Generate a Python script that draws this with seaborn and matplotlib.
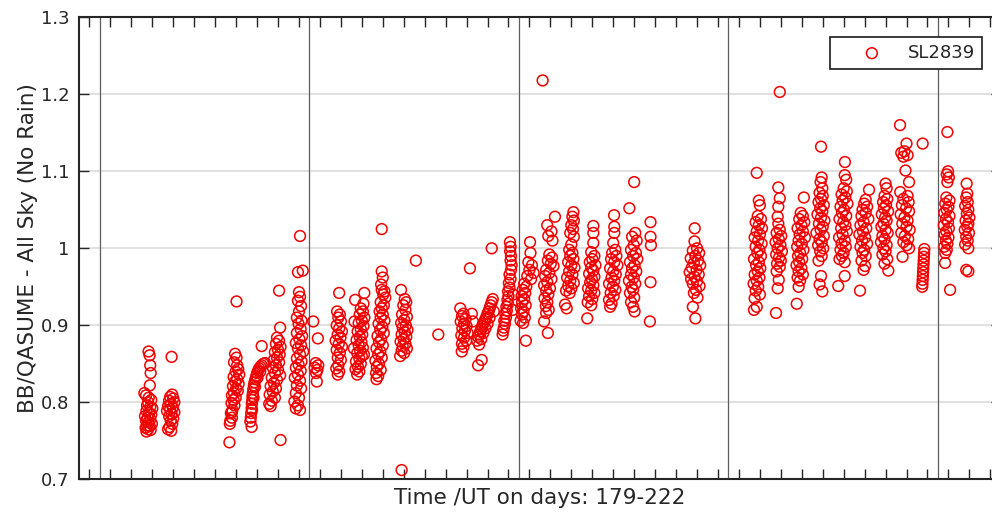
import numpy as np
import pandas as pd
import matplotlib
matplotlib.use("Agg")
import matplotlib.pyplot as plt
from matplotlib.ticker import FixedLocator, FuncFormatter, NullFormatter
import seaborn as sns

# Brewer/QASUME irradiance ratio, (day of year + UT fraction, ratio) per measuring day
d182 = [(182.32, 0.866), (182.37, 0.861), (182.40, 0.848), (182.42, 0.838), (182.38, 0.822),
        (182.12, 0.812), (182.20, 0.809), (182.33, 0.806), (182.45, 0.803), (182.30, 0.800),
        (182.25, 0.796), (182.40, 0.794), (182.50, 0.792), (182.22, 0.789), (182.35, 0.786),
        (182.45, 0.784), (182.15, 0.782), (182.28, 0.780), (182.40, 0.778), (182.20, 0.776),
        (182.32, 0.774), (182.48, 0.772), (182.25, 0.770), (182.38, 0.769), (182.18, 0.767),
        (182.30, 0.765), (182.42, 0.764), (182.22, 0.762)]
d183 = [(183.42, 0.859), (183.45, 0.810), (183.35, 0.807), (183.50, 0.805), (183.30, 0.802),
        (183.55, 0.800), (183.40, 0.798), (183.25, 0.795), (183.48, 0.793), (183.35, 0.791),
        (183.20, 0.789), (183.55, 0.787), (183.42, 0.785), (183.30, 0.782), (183.50, 0.779),
        (183.38, 0.776), (183.45, 0.772), (183.32, 0.768), (183.25, 0.765), (183.40, 0.763)]
d186 = [(186.52, 0.931), (186.45, 0.863), (186.52, 0.858), (186.40, 0.852), (186.55, 0.848),
        (186.60, 0.843), (186.48, 0.840), (186.65, 0.836), (186.38, 0.833), (186.55, 0.830),
        (186.45, 0.827), (186.62, 0.824), (186.35, 0.821), (186.50, 0.818), (186.58, 0.815),
        (186.40, 0.812), (186.30, 0.809), (186.48, 0.806), (186.38, 0.803), (186.28, 0.799),
        (186.42, 0.796), (186.32, 0.790), (186.25, 0.786), (186.30, 0.780), (186.22, 0.776),
        (186.20, 0.772), (186.30, 0.787), (186.18, 0.748)]
d187 = [(187.20, 0.780), (187.22, 0.786), (187.24, 0.792), (187.25, 0.798), (187.27, 0.803),
        (187.28, 0.808), (187.30, 0.812), (187.32, 0.817), (187.35, 0.822), (187.38, 0.826),
        (187.42, 0.830), (187.46, 0.834), (187.50, 0.838), (187.55, 0.841), (187.60, 0.844),
        (187.66, 0.846), (187.72, 0.848), (187.80, 0.850), (187.88, 0.851), (187.18, 0.775),
        (187.24, 0.768), (187.72, 0.873), (187.26, 0.790), (187.33, 0.806), (187.40, 0.820),
        (187.52, 0.832), (187.65, 0.840)]
d188 = [(188.55, 0.945), (188.60, 0.897), (188.45, 0.884), (188.55, 0.880), (188.40, 0.876),
        (188.62, 0.872), (188.50, 0.868), (188.35, 0.865), (188.58, 0.862), (188.45, 0.858),
        (188.30, 0.855), (188.55, 0.852), (188.40, 0.848), (188.25, 0.845), (188.50, 0.842),
        (188.35, 0.838), (188.60, 0.835), (188.20, 0.832), (188.45, 0.829), (188.30, 0.825),
        (188.15, 0.821), (188.40, 0.818), (188.25, 0.814), (188.10, 0.810), (188.35, 0.806),
        (188.20, 0.802), (188.08, 0.798), (188.15, 0.795), (188.62, 0.751)]
d189 = [(189.55, 1.016), (189.45, 0.969), (189.68, 0.971), (189.50, 0.943), (189.55, 0.937),
        (189.45, 0.932), (189.60, 0.925), (189.50, 0.918), (189.40, 0.910), (189.62, 0.906),
        (189.48, 0.902), (189.58, 0.895), (189.40, 0.890), (189.65, 0.886), (189.52, 0.882),
        (189.35, 0.877), (189.60, 0.874), (189.45, 0.870), (189.70, 0.866), (189.55, 0.862),
        (189.40, 0.857), (189.62, 0.853), (189.48, 0.849), (189.35, 0.845), (189.58, 0.841),
        (189.45, 0.836), (189.30, 0.832), (189.55, 0.828), (189.40, 0.822), (189.60, 0.818),
        (189.35, 0.812), (189.50, 0.806), (189.28, 0.801), (189.45, 0.796), (189.35, 0.792),
        (189.55, 0.790)]
d190 = [(190.18, 0.905), (190.40, 0.883), (190.30, 0.851), (190.42, 0.848), (190.25, 0.845),
        (190.38, 0.842), (190.32, 0.838), (190.35, 0.827)]
d191 = [(191.42, 0.942), (191.32, 0.918), (191.45, 0.914), (191.38, 0.910), (191.50, 0.905),
        (191.30, 0.900), (191.42, 0.896), (191.55, 0.892), (191.35, 0.888), (191.48, 0.884),
        (191.25, 0.880), (191.40, 0.876), (191.55, 0.872), (191.30, 0.868), (191.45, 0.864),
        (191.35, 0.858), (191.50, 0.855), (191.38, 0.848), (191.28, 0.844), (191.42, 0.840),
        (191.35, 0.836)]
d192 = [(192.62, 0.942), (192.18, 0.933), (192.58, 0.928), (192.45, 0.922), (192.55, 0.918),
        (192.40, 0.914), (192.62, 0.910), (192.50, 0.906), (192.35, 0.903), (192.58, 0.899),
        (192.45, 0.895), (192.30, 0.892), (192.52, 0.888), (192.40, 0.885), (192.25, 0.881),
        (192.48, 0.878), (192.35, 0.874), (192.55, 0.871), (192.42, 0.867), (192.28, 0.864),
        (192.50, 0.860), (192.38, 0.857), (192.22, 0.853), (192.45, 0.850), (192.32, 0.846),
        (192.20, 0.843), (192.38, 0.840), (192.28, 0.836), (192.15, 0.905), (192.12, 0.870),
        (192.60, 0.862)]
d193 = [(193.45, 1.025), (193.45, 0.970), (193.50, 0.962), (193.42, 0.953), (193.45, 0.946),
        (193.58, 0.944), (193.52, 0.940), (193.62, 0.936), (193.40, 0.930), (193.55, 0.926),
        (193.45, 0.922), (193.35, 0.918), (193.50, 0.914), (193.40, 0.910), (193.58, 0.906),
        (193.30, 0.902), (193.48, 0.898), (193.38, 0.894), (193.55, 0.890), (193.25, 0.886),
        (193.42, 0.882), (193.32, 0.878), (193.50, 0.874), (193.20, 0.870), (193.38, 0.866),
        (193.28, 0.862), (193.45, 0.858), (193.15, 0.854), (193.32, 0.850), (193.22, 0.846),
        (193.40, 0.842), (193.18, 0.838), (193.28, 0.834), (193.20, 0.830)]
d194 = [(194.37, 0.946), (194.55, 0.934), (194.62, 0.930), (194.48, 0.926), (194.58, 0.920),
        (194.42, 0.914), (194.65, 0.911), (194.52, 0.907), (194.38, 0.903), (194.60, 0.900),
        (194.45, 0.897), (194.68, 0.894), (194.55, 0.891), (194.40, 0.888), (194.62, 0.885),
        (194.50, 0.882), (194.35, 0.879), (194.58, 0.876), (194.45, 0.873), (194.65, 0.870),
        (194.40, 0.867), (194.52, 0.864), (194.33, 0.860), (194.40, 0.712)]
d195 = [(195.08, 0.984)]
d196 = [(196.15, 0.888)]
d197 = [(197.66, 0.974), (197.20, 0.922), (197.35, 0.915), (197.28, 0.912), (197.45, 0.908),
        (197.22, 0.905), (197.38, 0.902), (197.50, 0.899), (197.30, 0.896), (197.42, 0.893),
        (197.55, 0.890), (197.25, 0.887), (197.38, 0.884), (197.48, 0.880), (197.28, 0.876),
        (197.35, 0.872), (197.27, 0.866), (197.75, 0.915), (197.80, 0.905)]
d198 = [(198.00, 0.880), (198.05, 0.885), (198.10, 0.888), (198.15, 0.892), (198.20, 0.895),
        (198.25, 0.899), (198.30, 0.902), (198.35, 0.905), (198.40, 0.908), (198.45, 0.911),
        (198.50, 0.915), (198.55, 0.918), (198.60, 0.922), (198.65, 0.926), (198.70, 0.930),
        (198.75, 0.934), (198.10, 0.875), (198.20, 0.882), (198.30, 0.890), (198.40, 0.896),
        (198.50, 0.902), (198.60, 0.910), (198.70, 1.000), (198.22, 0.855), (198.80, 0.918),
        (198.05, 0.848)]
d199 = [(199.57, 1.008), (199.60, 1.002), (199.58, 0.996), (199.62, 0.990), (199.60, 0.984),
        (199.65, 0.978), (199.62, 0.972), (199.55, 0.966), (199.60, 0.960), (199.52, 0.955),
        (199.55, 0.949), (199.48, 0.944), (199.50, 0.938), (199.45, 0.933), (199.48, 0.928),
        (199.40, 0.924), (199.42, 0.919), (199.35, 0.915), (199.38, 0.910), (199.30, 0.906),
        (199.33, 0.902), (199.28, 0.897), (199.25, 0.893), (199.22, 0.888), (199.70, 0.920),
        (199.72, 0.940)]
d200 = [(200.53, 1.008), (200.55, 0.994), (200.45, 0.982), (200.62, 0.978), (200.50, 0.972),
        (200.70, 0.968), (200.40, 0.964), (200.58, 0.960), (200.25, 0.954), (200.35, 0.950),
        (200.18, 0.946), (200.30, 0.942), (200.12, 0.938), (200.25, 0.934), (200.15, 0.930),
        (200.32, 0.926), (200.10, 0.922), (200.22, 0.918), (200.15, 0.914), (200.28, 0.910),
        (200.08, 0.906), (200.20, 0.903), (200.33, 0.880)]
d201 = [(201.13, 1.218), (201.72, 1.041), (201.35, 1.030), (201.55, 1.022), (201.40, 1.016),
        (201.60, 1.010), (201.45, 0.992), (201.58, 0.988), (201.38, 0.984), (201.52, 0.980),
        (201.65, 0.977), (201.30, 0.972), (201.45, 0.968), (201.25, 0.964), (201.55, 0.960),
        (201.35, 0.956), (201.20, 0.952), (201.48, 0.948), (201.30, 0.945), (201.40, 0.940),
        (201.22, 0.935), (201.35, 0.930), (201.28, 0.925), (201.42, 0.920), (201.30, 0.916),
        (201.20, 0.905), (201.38, 0.890)]
d202 = [(202.60, 1.047), (202.55, 1.041), (202.62, 1.036), (202.50, 1.030), (202.58, 1.025),
        (202.45, 1.020), (202.62, 1.015), (202.50, 1.005), (202.40, 0.998), (202.55, 0.994),
        (202.45, 0.990), (202.60, 0.986), (202.35, 0.982), (202.50, 0.978), (202.65, 0.975),
        (202.40, 0.970), (202.55, 0.966), (202.30, 0.962), (202.45, 0.958), (202.62, 0.955),
        (202.35, 0.951), (202.50, 0.948), (202.25, 0.945), (202.42, 0.942), (202.20, 0.927),
        (202.28, 0.922)]
d203 = [(203.55, 1.029), (203.55, 1.020), (203.55, 1.007), (203.45, 0.995), (203.60, 0.990),
        (203.50, 0.986), (203.38, 0.982), (203.65, 0.978), (203.45, 0.975), (203.55, 0.971),
        (203.35, 0.967), (203.60, 0.963), (203.48, 0.960), (203.40, 0.956), (203.55, 0.952),
        (203.30, 0.948), (203.45, 0.945), (203.60, 0.942), (203.35, 0.938), (203.50, 0.934),
        (203.28, 0.930), (203.45, 0.926), (203.26, 0.909)]
d204 = [(204.54, 1.043), (204.55, 1.028), (204.55, 1.020), (204.50, 1.007), (204.60, 0.998),
        (204.45, 0.994), (204.65, 0.990), (204.40, 0.986), (204.55, 0.982), (204.70, 0.978),
        (204.35, 0.974), (204.50, 0.970), (204.62, 0.966), (204.42, 0.962), (204.55, 0.958),
        (204.30, 0.954), (204.48, 0.950), (204.60, 0.946), (204.38, 0.942), (204.52, 0.938),
        (204.30, 0.933), (204.42, 0.928), (204.35, 0.924)]
d205 = [(205.50, 1.086), (205.27, 1.052), (205.55, 1.020), (205.40, 1.015), (205.62, 1.010),
        (205.48, 1.004), (205.35, 0.998), (205.58, 0.994), (205.45, 0.990), (205.65, 0.986),
        (205.30, 0.982), (205.52, 0.978), (205.40, 0.974), (205.60, 0.970), (205.35, 0.966),
        (205.48, 0.962), (205.25, 0.958), (205.55, 0.954), (205.38, 0.950), (205.45, 0.946),
        (205.30, 0.942), (205.50, 0.936), (205.35, 0.930), (205.45, 0.924), (205.52, 0.918)]
d206 = [(206.28, 1.034), (206.28, 1.015), (206.30, 1.004), (206.28, 0.956), (206.25, 0.905)]
d208 = [(208.39, 1.026), (208.38, 1.009), (208.50, 1.000), (208.30, 0.997), (208.60, 0.994),
        (208.42, 0.990), (208.20, 0.987), (208.55, 0.984), (208.35, 0.981), (208.65, 0.978),
        (208.25, 0.975), (208.48, 0.972), (208.15, 0.969), (208.58, 0.966), (208.38, 0.963),
        (208.22, 0.960), (208.50, 0.957), (208.30, 0.954), (208.62, 0.951), (208.45, 0.946),
        (208.35, 0.942), (208.52, 0.936), (208.30, 0.924), (208.42, 0.909)]
d211 = [(211.35, 1.098), (211.45, 1.062), (211.50, 1.056), (211.40, 1.042), (211.55, 1.038),
        (211.30, 1.034), (211.45, 1.030), (211.60, 1.026), (211.35, 1.022), (211.50, 1.018),
        (211.25, 1.014), (211.42, 1.010), (211.58, 1.006), (211.30, 1.002), (211.48, 0.998),
        (211.38, 0.994), (211.55, 0.990), (211.22, 0.986), (211.45, 0.982), (211.32, 0.978),
        (211.52, 0.974), (211.40, 0.970), (211.25, 0.966), (211.48, 0.962), (211.35, 0.958),
        (211.20, 0.954), (211.42, 0.950), (211.30, 0.945), (211.50, 0.940), (211.25, 0.935),
        (211.35, 0.924), (211.22, 0.920)]
d212 = [(212.45, 1.203), (212.38, 1.079), (212.45, 1.065), (212.38, 1.054), (212.35, 1.041),
        (212.38, 1.032), (212.45, 1.024), (212.30, 1.020), (212.52, 1.016), (212.40, 1.012),
        (212.25, 1.008), (212.48, 1.004), (212.35, 1.000), (212.55, 0.996), (212.28, 0.992),
        (212.42, 0.988), (212.50, 0.984), (212.32, 0.980), (212.45, 0.976), (212.30, 0.970),
        (212.40, 0.959), (212.35, 0.948), (212.27, 0.916)]
d213 = [(213.60, 1.066), (213.45, 1.046), (213.55, 1.042), (213.38, 1.038), (213.62, 1.034),
        (213.48, 1.030), (213.30, 1.026), (213.55, 1.022), (213.40, 1.018), (213.65, 1.014),
        (213.35, 1.010), (213.50, 1.006), (213.28, 1.002), (213.58, 0.998), (213.42, 0.994),
        (213.32, 0.990), (213.52, 0.986), (213.38, 0.982), (213.25, 0.978), (213.48, 0.974),
        (213.35, 0.970), (213.55, 0.966), (213.30, 0.962), (213.42, 0.958), (213.35, 0.950),
        (213.26, 0.928)]
d214 = [(214.42, 1.132), (214.45, 1.092), (214.40, 1.086), (214.48, 1.078), (214.35, 1.072),
        (214.50, 1.068), (214.42, 1.064), (214.30, 1.060), (214.55, 1.056), (214.38, 1.052),
        (214.48, 1.048), (214.25, 1.044), (214.42, 1.040), (214.58, 1.036), (214.32, 1.032),
        (214.50, 1.028), (214.40, 1.024), (214.20, 1.020), (214.55, 1.016), (214.35, 1.012),
        (214.45, 1.008), (214.28, 1.004), (214.52, 1.000), (214.38, 0.996), (214.45, 0.990),
        (214.30, 0.984), (214.42, 0.964), (214.35, 0.953), (214.48, 0.944)]
d215 = [(215.56, 1.112), (215.55, 1.095), (215.62, 1.089), (215.50, 1.078), (215.65, 1.074),
        (215.40, 1.070), (215.58, 1.066), (215.45, 1.062), (215.68, 1.058), (215.35, 1.054),
        (215.52, 1.050), (215.42, 1.046), (215.62, 1.042), (215.30, 1.038), (215.48, 1.034),
        (215.58, 1.030), (215.38, 1.026), (215.65, 1.022), (215.45, 1.018), (215.28, 1.014),
        (215.55, 1.010), (215.40, 1.006), (215.60, 1.002), (215.35, 0.998), (215.50, 0.994),
        (215.42, 0.990), (215.30, 0.986), (215.55, 0.982), (215.55, 0.964), (215.24, 0.951)]
d216 = [(216.71, 1.076), (216.55, 1.063), (216.48, 1.058), (216.62, 1.054), (216.40, 1.050),
        (216.55, 1.046), (216.35, 1.042), (216.68, 1.038), (216.45, 1.034), (216.30, 1.030),
        (216.58, 1.026), (216.42, 1.022), (216.25, 1.018), (216.52, 1.014), (216.38, 1.010),
        (216.62, 1.006), (216.30, 1.002), (216.48, 0.998), (216.40, 0.994), (216.55, 0.990),
        (216.35, 0.984), (216.52, 0.977), (216.28, 0.945), (216.45, 0.972)]
d217 = [(217.50, 1.084), (217.55, 1.078), (217.45, 1.068), (217.58, 1.064), (217.38, 1.060),
        (217.52, 1.056), (217.42, 1.052), (217.62, 1.048), (217.32, 1.044), (217.48, 1.040),
        (217.55, 1.036), (217.40, 1.032), (217.30, 1.028), (217.50, 1.024), (217.60, 1.020),
        (217.35, 1.016), (217.45, 1.012), (217.28, 1.008), (217.55, 1.004), (217.40, 1.000),
        (217.50, 0.996), (217.35, 0.992), (217.58, 0.986), (217.63, 0.971), (217.45, 0.980)]
d218 = [(218.19, 1.160), (218.50, 1.136), (218.25, 1.124), (218.40, 1.126), (218.55, 1.121),
        (218.35, 1.119), (218.45, 1.101), (218.62, 1.086), (218.20, 1.073), (218.55, 1.068),
        (218.35, 1.064), (218.60, 1.060), (218.28, 1.056), (218.48, 1.052), (218.62, 1.048),
        (218.22, 1.044), (218.40, 1.040), (218.55, 1.036), (218.30, 1.032), (218.50, 1.028),
        (218.65, 1.024), (218.25, 1.020), (218.42, 1.016), (218.58, 1.012), (218.35, 1.008),
        (218.50, 1.004), (218.62, 1.000), (218.31, 0.989)]
d219 = [(219.27, 1.136), (219.35, 0.999), (219.34, 0.994), (219.33, 0.989), (219.32, 0.984),
        (219.31, 0.979), (219.30, 0.974), (219.29, 0.969), (219.28, 0.964), (219.27, 0.959),
        (219.26, 0.954), (219.25, 0.950)]
d220 = [(220.45, 1.151), (220.48, 1.100), (220.42, 1.096), (220.52, 1.092), (220.45, 1.086),
        (220.40, 1.066), (220.55, 1.062), (220.35, 1.058), (220.50, 1.054), (220.42, 1.050),
        (220.30, 1.046), (220.55, 1.042), (220.38, 1.038), (220.48, 1.034), (220.28, 1.030),
        (220.52, 1.026), (220.40, 1.022), (220.32, 1.018), (220.50, 1.014), (220.38, 1.010),
        (220.45, 1.006), (220.30, 1.002), (220.42, 0.998), (220.35, 0.994), (220.34, 0.981),
        (220.58, 0.946)]
d221 = [(221.37, 1.084), (221.40, 1.071), (221.35, 1.066), (221.42, 1.060), (221.30, 1.055),
        (221.45, 1.050), (221.38, 1.045), (221.50, 1.040), (221.32, 1.036), (221.45, 1.032),
        (221.40, 1.028), (221.28, 1.024), (221.48, 1.020), (221.35, 1.015), (221.42, 1.010),
        (221.30, 1.005), (221.45, 1.000), (221.35, 0.972), (221.45, 0.970)]

station = "SL2839"
x_label = "Time /UT on days: 179-222"
y_label = "BB/QASUME - All Sky (No Rain)"
ratio_ticks = [0.7, 0.8, 0.9, 1.0, 1.1, 1.2, 1.3]
decade_days = [180, 190, 200, 210, 220]

days = [d182, d183, d186, d187, d188, d189, d190, d191, d192, d193, d194, d195, d196,
        d197, d198, d199, d200, d201, d202, d203, d204, d205, d206, d208, d211, d212,
        d213, d214, d215, d216, d217, d218, d219, d220, d221]
df = pd.DataFrame([pt for day in days for pt in day], columns=["time", "ratio"])

sns.set_style("white")
plt.rcParams["font.family"] = ["DejaVu Sans"]
ink = "#262626"

fig = plt.figure(figsize=(9.92, 5.14), dpi=100)
# the frame runs past the right edge of the canvas
ax = fig.add_axes([79 / 992, (514 - 479.3) / 514, 921.8 / 992, 462 / 514])

ax.set_xlim(179, 223)
ax.set_ylim(0.7, 1.3)

ax.yaxis.grid(True, color="#e0e0e0", linewidth=1.4, zorder=0)
ax.set_axisbelow(True)
for d in decade_days:
    ax.axvline(d, color="#5c5c5c", linewidth=0.9, zorder=1)

sns.scatterplot(data=df, x="time", y="ratio", ax=ax, marker="o", s=60,
                facecolor="none", edgecolor="#f00000", linewidth=1.1,
                label=station, zorder=3)

ax.xaxis.set_major_locator(FixedLocator(np.arange(179.5, 223.0, 1.0)))
ax.xaxis.set_major_formatter(NullFormatter())
ax.yaxis.set_major_locator(FixedLocator(ratio_ticks))
ax.yaxis.set_major_formatter(FuncFormatter(lambda v, _: f"{v:g}"))

ax.tick_params(axis="x", which="major", direction="in", length=7.2, width=1.0,
               top=True, bottom=True, labelbottom=False, color=ink)
ax.tick_params(axis="y", which="major", direction="in", length=7.2, width=1.0,
               left=True, right=True, labelsize=13, pad=7, color=ink, labelcolor=ink)

for sp in ax.spines.values():
    sp.set_visible(True)
    sp.set_linewidth(1.5)
    sp.set_color(ink)

ax.set_xlabel(x_label, fontsize=15.5, color=ink, labelpad=6)
ax.set_ylabel(y_label, fontsize=15.5, color=ink, labelpad=2)

leg = ax.legend(loc="upper right", bbox_to_anchor=(0.980, 0.958), borderaxespad=0,
                fontsize=13, handlelength=3.85, handletextpad=0.07, borderpad=0.4,
                frameon=True, fancybox=False, framealpha=1, edgecolor="#1a1a1a")
leg.get_frame().set_linewidth(1.2)
for t in leg.get_texts():
    t.set_color(ink)

fig.savefig("out.png", dpi=100)
